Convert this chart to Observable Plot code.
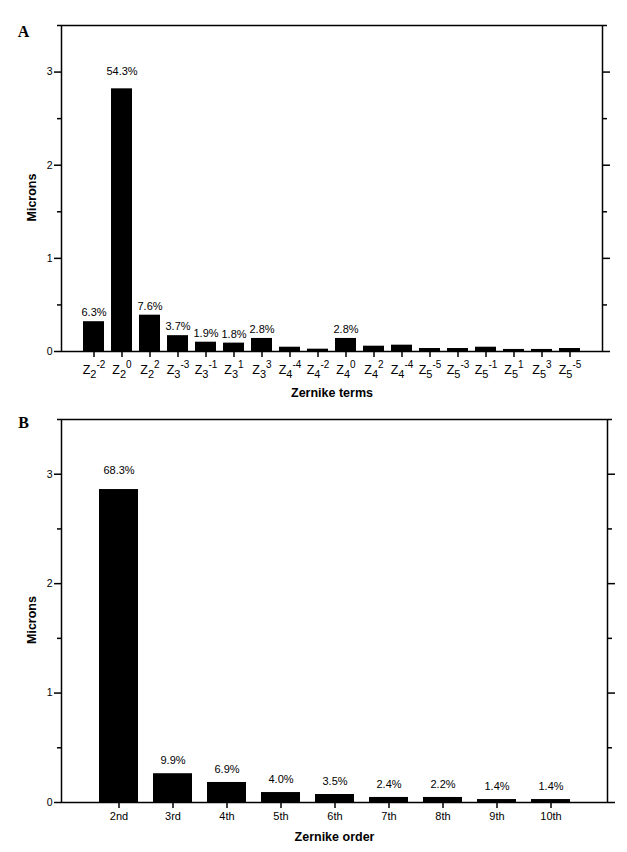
<!DOCTYPE html>
<html><head><meta charset="utf-8">
<script src="https://cdn.jsdelivr.net/npm/d3@7"></script>
<script src="https://cdn.jsdelivr.net/npm/@observablehq/plot@0.6"></script>
<style>
body{margin:0;background:#fff;width:627px;}
svg{display:block;}
</style></head><body><div id="chart"></div>
<script>
// ---------- Panel A: Zernike terms ----------
const termOrder   = [2,2,2,3,3,3,3,4,4,4,4,4,5,5,5,5,5,5];
const termIndex   = [-2,0,2,-3,-1,1,3,-4,-2,0,2,-4,-5,-3,-1,1,3,-5];
const termMicrons = [0.32,2.82,0.39,0.17,0.10,0.09,0.14,0.046,0.025,0.14,0.057,0.068,0.032,0.032,0.046,0.022,0.022,0.032];
const termPercent = ["6.3%","54.3%","7.6%","3.7%","1.9%","1.8%","2.8%","","","2.8%","","","","","","","",""];

// ---------- Panel B: Zernike order ----------
const orders       = ["2nd","3rd","4th","5th","6th","7th","8th","9th","10th"];
const orderMicrons = [2.86,0.263,0.183,0.091,0.073,0.046,0.046,0.027,0.027];
const orderPercent = ["68.3%","9.9%","6.9%","4.0%","3.5%","2.4%","2.2%","1.4%","1.4%"];

const yTicks      = [0,1,2,3];
const yMinorTicks = [0.5,1.5,2.5,3.5];

const FONT  = "'Liberation Sans', Arial, Helvetica, sans-serif";
const SERIF = "'Liberation Serif', 'Times New Roman', serif";

function panel(o) {
  const maxV = d3.max(o.data, d => d.v);
  const labelled = o.data.filter(d => d.p);
  return Plot.plot({
    width: 627, height: o.height,
    marginLeft: 61, marginRight: o.marginRight, marginTop: o.marginTop, marginBottom: o.marginBottom,
    style: {fontFamily: FONT, background: "white", color: "black", overflow: "visible"},
    x: {type: "band", domain: o.xDomain, paddingInner: o.paddingInner, paddingOuter: o.paddingOuter},
    y: {domain: [0, 3.5]},
    marks: [
      Plot.barY(o.data, {x: "k", y: "v", fill: "black"}),
      Plot.text(labelled.filter(d => d.v !== maxV), {x: "k", y: "v", text: "p", lineAnchor: "middle", dy: o.labelDy, fontSize: 11, fill: "black"}),
      Plot.text(labelled.filter(d => d.v === maxV), {x: "k", y: "v", text: "p", lineAnchor: "middle", dy: o.bigLabelDy, fontSize: 11, fill: "black"}),
      Plot.frame({stroke: "black", strokeWidth: 1.5}),
      Plot.axisY({ticks: yTicks, tickSize: 7, tickPadding: 2, fontSize: 10.5, tickFormat: d => String(d), strokeWidth: 1.5, label: null}),
      Plot.axisY({ticks: yMinorTicks, tickSize: 4, tickFormat: () => "", strokeWidth: 1.5, label: null}),
      Plot.axisY({anchor: "right", ticks: yTicks, tickSize: 7, tickFormat: () => "", strokeWidth: 1.5, label: null}),
      Plot.axisY({anchor: "right", ticks: yMinorTicks, tickSize: 4, tickFormat: () => "", strokeWidth: 1.5, label: null}),
      Plot.axisX({tickSize: 6, tickPadding: o.tickPadding, tickFormat: o.tickFormat, fontSize: 11, strokeWidth: 1.5, label: null}),
      Plot.text([o.letter], {text: d => d, frameAnchor: "top-left", dx: -38, dy: o.letterDy, lineAnchor: "top", textAnchor: "middle", fontFamily: SERIF, fontWeight: "bold", fontSize: 16}),
      Plot.text(["Microns"], {text: d => d, frameAnchor: "left", rotate: -90, dx: -30, dy: 9, lineAnchor: "middle", textAnchor: "middle", fontWeight: "bold", fontSize: 12.5}),
      Plot.text([o.xTitle], {text: d => d, frameAnchor: "bottom", dy: o.xTitleDy, lineAnchor: "top", textAnchor: "middle", fontWeight: "bold", fontSize: 12.5})
    ]
  });
}

const dataA = termMicrons.map((v, i) => ({k: i, v, p: termPercent[i]}));
const svgA = panel({
  data: dataA, xDomain: d3.range(termMicrons.length),
  tickFormat: i => `${termOrder[i]}|${termIndex[i]}`,
  height: 410, marginTop: 25, marginBottom: 59, marginRight: 25,
  paddingInner: 0.26, paddingOuter: 0.63, tickPadding: 9,
  labelDy: -9, bigLabelDy: -17,
  letter: "A", letterDy: 0, xTitle: "Zernike terms", xTitleDy: 37
});

const dataB = orderMicrons.map((v, i) => ({k: orders[i], v, p: orderPercent[i]}));
const svgB = panel({
  data: dataB, xDomain: orders,
  tickFormat: d => d,
  height: 442, marginTop: 9, marginBottom: 50, marginRight: 20,
  paddingInner: 0.28, paddingOuter: 0.64, tickPadding: 4,
  labelDy: -13, bigLabelDy: -19,
  letter: "B", letterDy: -3, xTitle: "Zernike order", xTitleDy: 30
});

// Zernike tick labels with subscript (order) and superscript (frequency)
const NS = "http://www.w3.org/2000/svg";
svgA.querySelectorAll("text").forEach(t => {
  const s = t.textContent;
  if (!s.includes("|") || t.children.length) return;
  const [n, m] = s.split("|");
  t.textContent = "";
  const add = (str, size, dy) => {
    const ts = document.createElementNS(NS, "tspan");
    ts.textContent = str;
    ts.setAttribute("font-size", size);
    if (dy) ts.setAttribute("dy", dy);
    t.appendChild(ts);
  };
  add("Z", 12.5, 0);
  add(n, 11, 3.5);
  add(m, 10, -10);
});

const chart = document.getElementById("chart");
chart.appendChild(svgA);
chart.appendChild(svgB);
</script>
</body></html>
